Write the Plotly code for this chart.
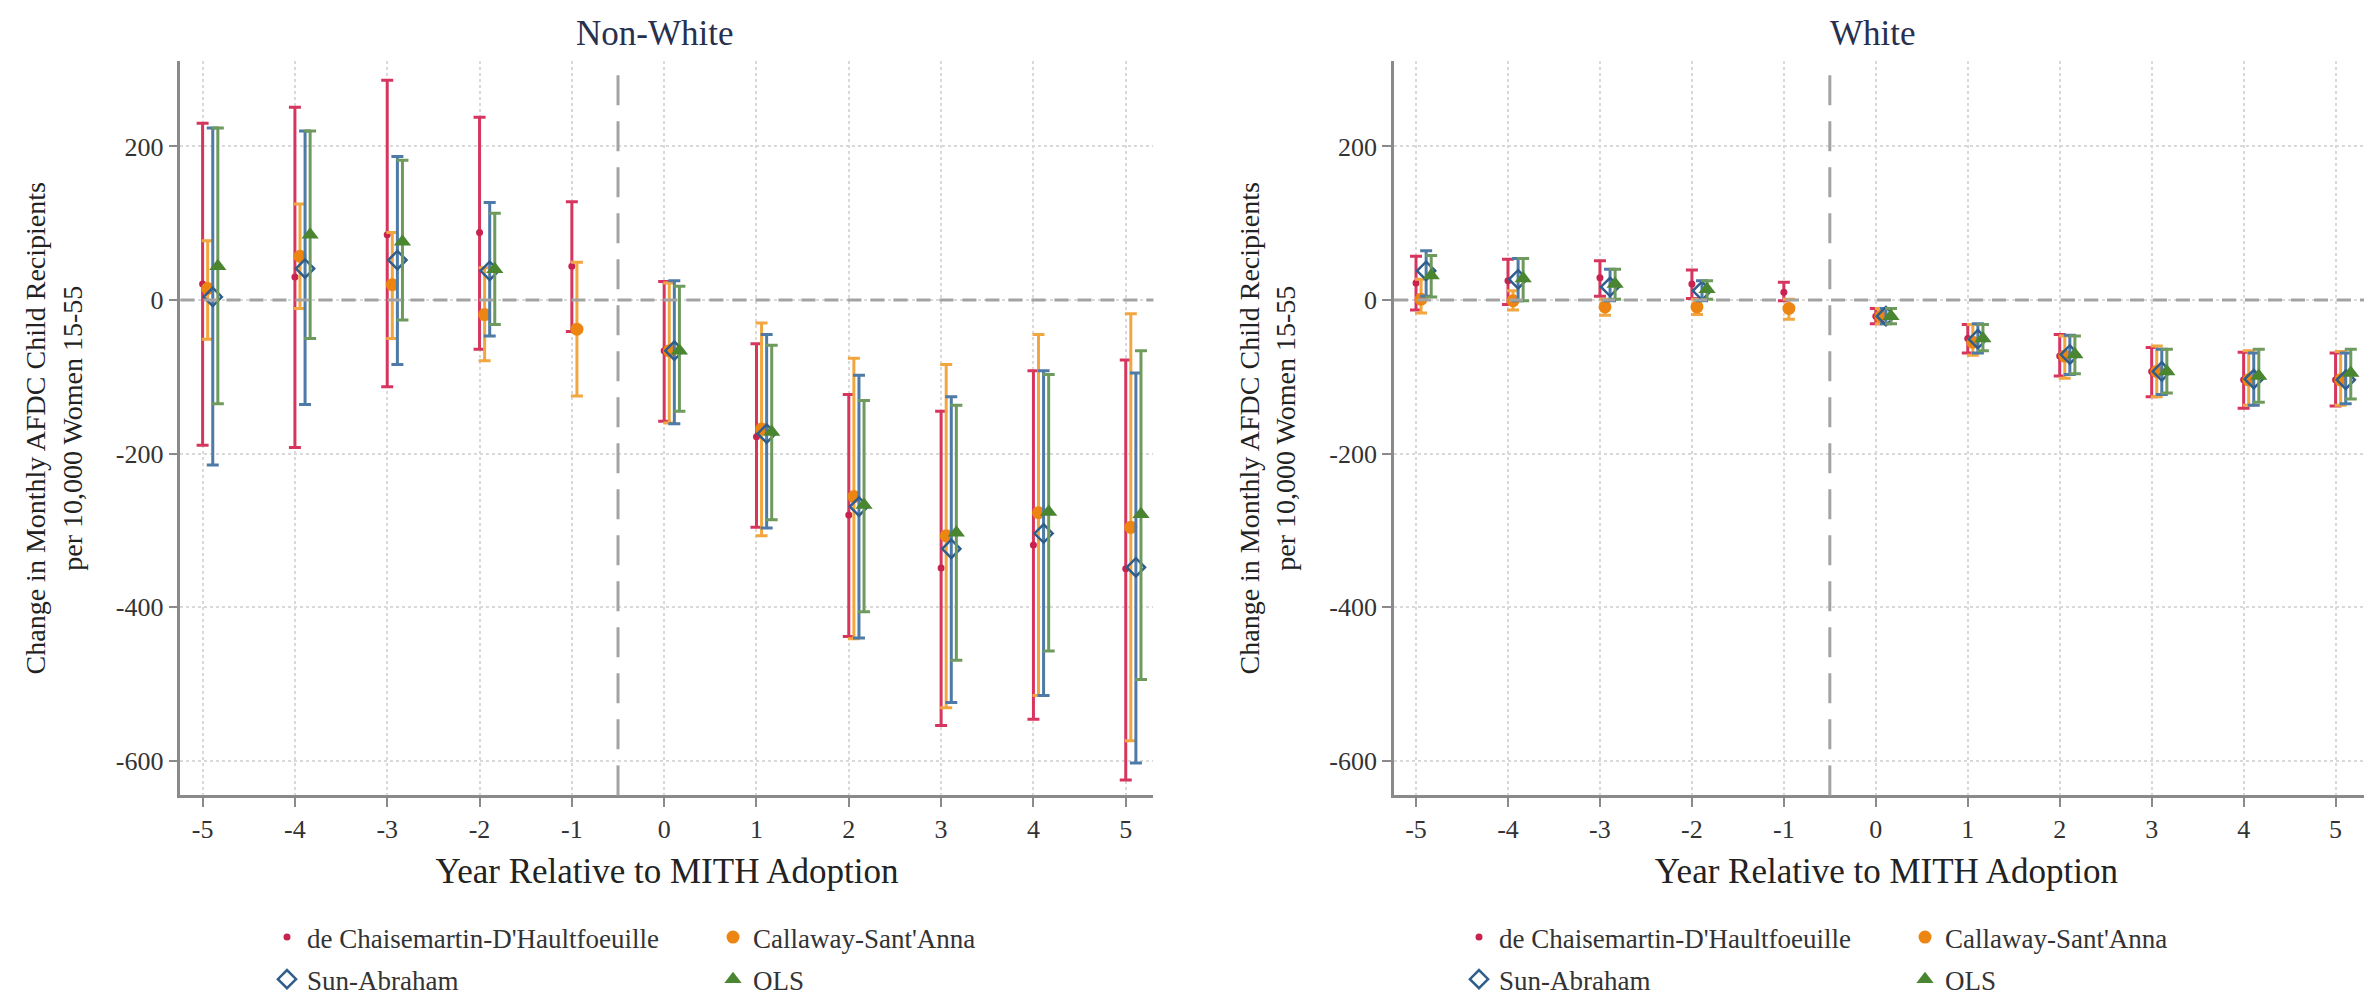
import plotly.graph_objects as go

# ---------------- data ----------------
years = [-5, -4, -3, -2, -1, 0, 1, 2, 3, 4, 5]

# Non-White panel
nw_dcdh_pt = [21, 30, 85, 88, 44, -66, -178, -280, -349, -319, -350]
nw_dcdh_hi = [230, 251, 286, 238, 128, 24, -57, -123, -145, -92, -78]
nw_dcdh_lo = [-189, -192, -113, -64, -41, -158, -296, -438, -554, -546, -625]

nw_cs_pt = [15, 57, 20, -19, -38, -66, -168, -256, -307, -277, -296]
nw_cs_hi = [77, 125, 88, 42, 49, 22, -30, -76, -84, -45, -18]
nw_cs_lo = [-51, -11, -50, -79, -125, -160, -307, -441, -531, -515, -574]

nw_sa_pt = [4, 41, 52, 38, None, -66, -174, -269, -324, -304, -348]
nw_sa_hi = [224, 220, 187, 127, None, 25, -45, -98, -126, -92, -95]
nw_sa_lo = [-215, -136, -84, -47, None, -161, -297, -440, -524, -515, -603]

nw_ols_pt = [44, 85, 76, 40, None, -66, -172, -267, -303, -276, -279]
nw_ols_hi = [224, 220, 182, 113, None, 18, -59, -131, -137, -97, -66]
nw_ols_lo = [-135, -50, -26, -32, None, -145, -286, -406, -469, -457, -494]

# White panel
w_dcdh_pt = [22, 25, 29, 21, 10, -21, -50, -73, -93, -104, -104]
w_dcdh_hi = [57, 53, 51, 39, 23, -11, -32, -45, -62, -68, -69]
w_dcdh_lo = [-13, -6, 5, 2, -1, -31, -69, -99, -126, -141, -138]

w_cs_pt = [1, -1, -9, -9, -11, -21, -55, -73, -93, -104, -104]
w_cs_hi = [27, 12, 1, 1, 1, -11, -32, -47, -60, -66, -67]
w_cs_lo = [-17, -13, -20, -19, -25, -31, -72, -102, -126, -137, -137]

w_sa_pt = [38, 27, 17, 12, None, -21, -51, -71, -93, -103, -104]
w_sa_hi = [64, 54, 40, 25, None, -11, -31, -46, -64, -69, -69]
w_sa_lo = [5, -1, -1, -1, None, -31, -69, -97, -123, -137, -135]

w_ols_pt = [32, 28, 21, 14, None, -21, -50, -71, -93, -99, -95]
w_ols_hi = [58, 54, 40, 25, None, -11, -32, -47, -64, -64, -64]
w_ols_lo = [4, -1, 1, 1, None, -31, -66, -96, -121, -133, -129]

series_names = ["de Chaisemartin-D'Haultfoeuille", "Callaway-Sant'Anna",
                "Sun-Abraham", "OLS"]
panel_titles = ["Non-White", "White"]
x_title = "Year Relative to MITH Adoption"
y_title = "Change in Monthly AFDC Child Recipients<br>per 10,000 Women 15-55"
ytick_vals = [200, 0, -200, -400, -600]
ytick_text = ["200", "0", "-200", "-400", "-600"]
xtick_vals = years
xtick_text = [str(v) for v in years]

# ---------------- styles ----------------
FONT = "Liberation Serif"
styles = [
    dict(offset=0.0, mcolor="#c8234f", ecolor="#d6365e", symbol="circle", size=7, lw=0),
    dict(offset=0.055, mcolor="#ec8512", ecolor="#f2a640", symbol="circle", size=13, lw=0),
    dict(offset=0.11, mcolor="#2f5d8c", ecolor="#4d7aa6", symbol="diamond-open", size=14, lw=2.5),
    dict(offset=0.165, mcolor="#4a8530", ecolor="#6f9a5e", symbol="triangle-up", size=15, lw=0),
]
legend_ids = [["legend", "legend2", "legend", "legend2"],
              ["legend3", "legend4", "legend3", "legend4"]]

panels = [
    [(nw_dcdh_pt, nw_dcdh_hi, nw_dcdh_lo), (nw_cs_pt, nw_cs_hi, nw_cs_lo),
     (nw_sa_pt, nw_sa_hi, nw_sa_lo), (nw_ols_pt, nw_ols_hi, nw_ols_lo)],
    [(w_dcdh_pt, w_dcdh_hi, w_dcdh_lo), (w_cs_pt, w_cs_hi, w_cs_lo),
     (w_sa_pt, w_sa_hi, w_sa_lo), (w_ols_pt, w_ols_hi, w_ols_lo)],
]

fig = go.Figure()
for p, panel in enumerate(panels):
    xa = "x" if p == 0 else "x2"
    ya = "y" if p == 0 else "y2"
    for s, (pt, hi, lo) in enumerate(panel):
        st = styles[s]
        xs, ys, up, dn = [], [], [], []
        for yr, v, h, l in zip(years, pt, hi, lo):
            if v is None:
                continue
            xs.append(yr + st["offset"])
            ys.append(v)
            up.append(h - v)
            dn.append(v - l)
        fig.add_trace(go.Scatter(
            x=xs, y=ys, mode="markers", xaxis=xa, yaxis=ya,
            name=series_names[s], legend=legend_ids[p][s],
            legendgroup=f"p{p}s{s}",
            marker=dict(symbol=st["symbol"], size=st["size"], color=st["mcolor"],
                        line=dict(width=st["lw"], color=st["mcolor"])),
            error_y=dict(type="data", symmetric=False, array=up, arrayminus=dn,
                         color=st["ecolor"], thickness=3, width=6),
        ))

axis_common = dict(
    showline=True, linecolor="#8a8a8a", linewidth=2.5, mirror=False,
    ticks="outside", ticklen=9, tickwidth=2, tickcolor="#8a8a8a",
    tickfont=dict(family=FONT, size=26, color="#333333"),
    showgrid=True, gridcolor="#d9d9d9", gridwidth=1.5, griddash="dot",
    zeroline=False,
)
xranges = [[-5.24, 5.3], [-5.24, 5.47]]
yr_ = [-645, 311]
doms = [[0.0727, 0.4829], [0.5843, 0.9995]]
ydom = [0.215, 0.947]

layout = dict(
    width=2372, height=1003,
    paper_bgcolor="white", plot_bgcolor="white",
    margin=dict(l=0, r=0, t=0, b=0),
    showlegend=True,
    font=dict(family=FONT, color="#222222"),
)
for p in range(2):
    xk = "xaxis" if p == 0 else "xaxis2"
    yk = "yaxis" if p == 0 else "yaxis2"
    layout[xk] = dict(axis_common, domain=doms[p], range=xranges[p],
                      tickvals=xtick_vals, ticktext=xtick_text,
                      anchor="y" if p == 0 else "y2",
                      title=dict(text=x_title, standoff=16,
                                 font=dict(family=FONT, size=35, color="#222222")))
    layout[yk] = dict(axis_common, domain=ydom, range=yr_,
                      tickvals=ytick_vals, ticktext=ytick_text,
                      anchor="x" if p == 0 else "x2",
                      title=dict(text=y_title, standoff=26,
                                 font=dict(family=FONT, size=28, color="#222222")))

leg_common = dict(font=dict(family=FONT, size=27, color="#333333"),
                  bgcolor="rgba(0,0,0,0)", orientation="v", tracegroupgap=4,
                  xanchor="left", yanchor="top", itemclick=False)
leg_y = 0.0977
layout["legend"] = dict(leg_common, x=259 / 2372, y=leg_y)
layout["legend2"] = dict(leg_common, x=705 / 2372, y=leg_y)
layout["legend3"] = dict(leg_common, x=1451 / 2372, y=leg_y)
layout["legend4"] = dict(leg_common, x=1897 / 2372, y=leg_y)
fig.update_layout(**layout)

# reference lines
for p in range(2):
    xa = "x" if p == 0 else "x2"
    ya = "y" if p == 0 else "y2"
    fig.add_shape(type="line", xref=xa + " domain", yref=ya, x0=0, x1=1, y0=0, y1=0,
                  line=dict(color="#a3a3a3", width=3, dash="14px,9px"))
    fig.add_shape(type="line", xref=xa, yref=ya + " domain", x0=-0.5, x1=-0.5, y0=0, y1=1,
                  line=dict(color="#a3a3a3", width=3, dash="30px,16px"))

# panel titles
title_x = [646 / 2372, 1865 / 2372]
for p in range(2):
    fig.add_annotation(text=panel_titles[p], xref="paper", yref="paper",
                       x=title_x[p], y=0.975, xanchor="center", yanchor="middle",
                       showarrow=False,
                       font=dict(family=FONT, size=35, color="#27304f"))

fig.write_html("out.html")
